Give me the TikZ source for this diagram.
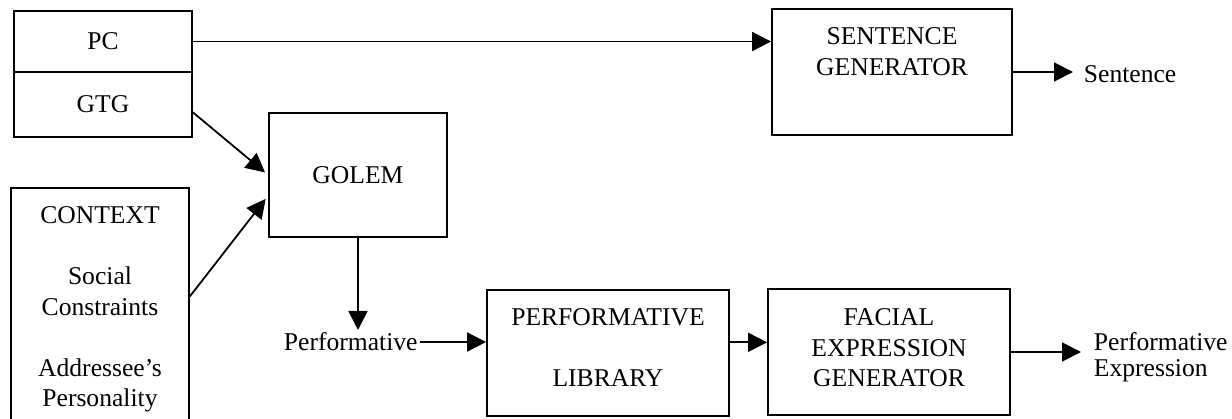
\documentclass[tikz,border=0pt]{standalone}
\usepackage{fontspec}
\setmainfont{Liberation Serif}
\usepackage{tikz}
\usetikzlibrary{positioning,arrows.meta}

\begin{document}
\begin{tikzpicture}[x=0.5pt,y=-0.5pt,
	line width=0.9pt,
	font=\fontsize{12.8}{15.25}\selectfont,
	boxnode/.style={draw,rectangle,inner sep=0pt},
	textnode/.style={align=center,inner sep=1pt},
	labelnode/.style={inner sep=1pt},
	flow/.style={-{Triangle[length=9.5pt,width=9.5pt]}},
	]
	
	\clip (0,0) rectangle (1232,418);
	
	% the input boxes
	\node[boxnode,minimum width=89pt,minimum height=30.5pt] (pc) at (103,41.5) {PC};
	\node[boxnode,minimum width=89pt,minimum height=32.5pt] (gtg) at (103,104.5) {GTG};
	\node[boxnode,minimum width=89pt,minimum height=121pt] (ctx) at (100,309) {};
	\node[textnode,below=8.5pt of ctx.north] (ctxtext) {CONTEXT\\[15.25pt]Social\\Constraints\\[15.25pt]Addressee's\\Personality};
	
	% the processing boxes
	\node[boxnode,minimum width=89pt,minimum height=62pt] (golem) at (358,175) {GOLEM};
	\node[boxnode,minimum width=120pt,minimum height=63pt] (sg) at (892,72) {};
	\node[textnode,below=8.5pt of sg.north] (sgtext) {SENTENCE\\GENERATOR};
	\node[boxnode,minimum width=121pt,minimum height=63pt] (pl) at (608,353) {};
	\node[textnode,below=8.5pt of pl.north] (pltext) {PERFORMATIVE\\[15.25pt]LIBRARY};
	\node[boxnode,minimum width=121pt,minimum height=63pt] (feg) at (889,352) {};
	\node[textnode,below=9pt of feg.north] (fegtext) {FACIAL\\EXPRESSION\\GENERATOR};
	
	% outputs
	\node[labelnode,anchor=west] (perf) at (281,342) {Performative};
	\node[labelnode,anchor=west] (sent) at (1081,74) {Sentence};
	\node[labelnode,anchor=west,align=left,font=\fontsize{12.8}{13}\selectfont] (pe) at (1091,357) {Performative\\Expression};
	
	% arrows
	\draw[flow] (pc.east) -- (pc.east -| sg.west);
	\draw[flow,shorten >=4pt] (sg.east) -- (sg.east -| sent.west);
	\draw[flow,shorten >=2pt] (gtg.-5) -- (golem.west);
	\draw[flow,shorten >=2pt] (ctx.8) -- (golem.193);
	\draw[flow] (golem.south) -- (golem.south |- perf.north);
	\draw[flow] (perf.east) -- (perf.east -| pl.west);
	\draw[flow] (pl.5) -- (pl.5 -| feg.west);
	\draw[flow,shorten >=5pt] (feg.east) -- (feg.east -| pe.west);
	
\end{tikzpicture}
\end{document}
